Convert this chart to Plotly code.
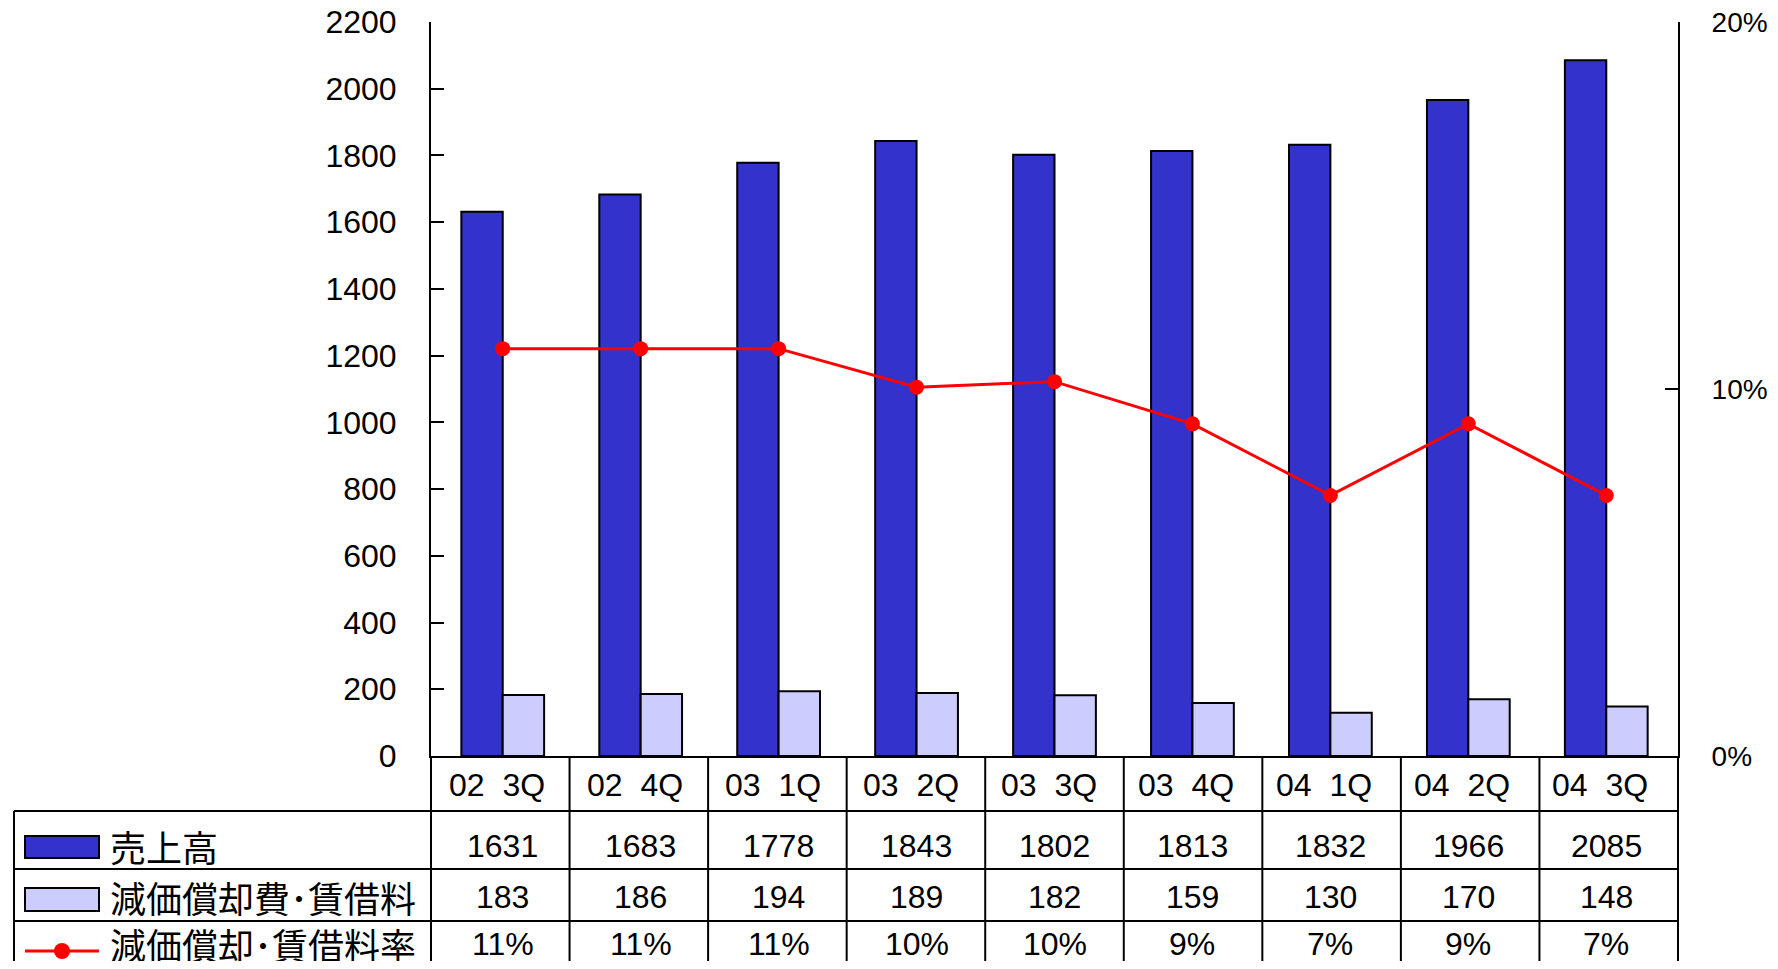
import plotly.graph_objects as go

quarters = ["02  3Q", "02  4Q", "03  1Q", "03  2Q", "03  3Q", "03  4Q", "04  1Q", "04  2Q", "04  3Q"]
sales = [1631, 1683, 1778, 1843, 1802, 1813, 1832, 1966, 2085]
depr = [183, 186, 194, 189, 182, 159, 130, 170, 148]
rate = [11.1, 11.1, 11.1, 10.05, 10.2, 9.05, 7.1, 9.05, 7.1]
rate_labels = ["11%", "11%", "11%", "10%", "10%", "9%", "7%", "9%", "7%"]
rate_ticks = [0, 10, 20]
rate_ticktext = ["0%", "10%", "20%"]
series_names = ["売上高", "減価償却費･賃借料", "減価償却･賃借料率"]

BLUE = "#3333CC"
LIGHT = "#CCCCFF"
RED = "#FF0000"
NUM_FONT = "Liberation Sans, Arial, sans-serif"
JP_FONT = "Noto Sans CJK JP, sans-serif"

# the page body has an 8px margin, so the figure is a bit smaller than the window
OFF = 8
W, H = 1778 - 2 * OFF, 969 - 2 * OFF
# plot area in screen pixels
L, R, T, B = 431, 1678, 22, 756

def px(x):
    return (x - L) / (R - L)

def py(y):
    return (B - y) / (B - T)

fig = go.Figure()
fig.add_trace(go.Bar(x=quarters, y=sales, name=series_names[0], marker=dict(color=BLUE, line=dict(color="black", width=2))))
fig.add_trace(go.Bar(x=quarters, y=depr, name=series_names[1], marker=dict(color=LIGHT, line=dict(color="black", width=2))))
fig.add_trace(go.Scatter(x=quarters, y=rate, name=series_names[2], yaxis="y2", mode="lines+markers",
                         line=dict(color=RED, width=3), marker=dict(color=RED, size=15)))

shapes = []
line_style = dict(color="black", width=2)
# horizontal table lines
for yy in [811, 869, 921]:
    shapes.append(dict(type="line", xref="paper", yref="paper", x0=px(14), x1=px(R), y0=py(yy), y1=py(yy), line=line_style))
# vertical table lines
for k in range(10):
    xx = L + k * (R - L) / 9
    shapes.append(dict(type="line", xref="paper", yref="paper", x0=px(xx), x1=px(xx), y0=py(756), y1=py(985), line=line_style))
shapes.append(dict(type="line", xref="paper", yref="paper", x0=px(14), x1=px(14), y0=py(811), y1=py(985), line=line_style))

# legend keys inside the table
shapes.append(dict(type="rect", xref="paper", yref="paper", x0=px(25), x1=px(99), y0=py(836), y1=py(858),
                   fillcolor=BLUE, line=line_style))
shapes.append(dict(type="rect", xref="paper", yref="paper", x0=px(25), x1=px(99), y0=py(888), y1=py(911),
                   fillcolor=LIGHT, line=line_style))
shapes.append(dict(type="line", xref="paper", yref="paper", x0=px(25), x1=px(99), y0=py(951), y1=py(951),
                   line=dict(color=RED, width=3)))
shapes.append(dict(type="circle", xref="paper", yref="paper", x0=px(54), x1=px(70), y0=py(943), y1=py(959),
                   fillcolor=RED, line=dict(color=RED, width=0)))

annotations = []
row_y = [785, 846, 897, 944]
rows = [quarters, [str(v) for v in sales], [str(v) for v in depr], rate_labels]
for r, vals in enumerate(rows):
    for q, v in zip(quarters, vals):
        annotations.append(dict(x=q, xref="x", y=py(row_y[r]), yref="paper", text=v.replace(" ", "\u00a0"),
                                xanchor="center", yanchor="middle", xshift=-6 if r == 0 else 0, showarrow=False,
                                font=dict(family=NUM_FONT, size=32, color="black")))
for i, name in enumerate(series_names):
    annotations.append(dict(x=px(108), xref="paper", y=py(row_y[i + 1]), yref="paper", text=name,
                            xanchor="left", yanchor="middle", showarrow=False,
                            font=dict(family=JP_FONT, size=36, color="black")))

fig.update_layout(
    width=W, height=H, autosize=False,
    margin=dict(l=L - OFF, r=W - (R - OFF), t=T - OFF, b=H - (B - OFF), autoexpand=False),
    paper_bgcolor="white", plot_bgcolor="white",
    barmode="group", bargap=0.4, bargroupgap=0,
    showlegend=False,
    xaxis=dict(showticklabels=False, ticks="", showgrid=False, showline=True, linecolor="black", linewidth=2),
    yaxis=dict(range=[0, 2200], dtick=200, showgrid=False, zeroline=False, showline=True, linecolor="black", linewidth=2,
               ticks="inside", ticklen=13, tickwidth=2, tickcolor="black", ticklabelstandoff=26,
               ticklabeloverflow="allow", tickfont=dict(family=NUM_FONT, size=32, color="black")),
    yaxis2=dict(range=[0, 20], tickmode="array", tickvals=rate_ticks, ticktext=rate_ticktext, overlaying="y",
                side="right", showgrid=False, zeroline=False, showline=True, linecolor="black", linewidth=2,
                ticks="inside", ticklen=13, tickwidth=2, tickcolor="black", ticklabelstandoff=26,
                ticklabeloverflow="allow", tickfont=dict(family=NUM_FONT, size=28, color="black")),
    shapes=shapes,
    annotations=annotations,
)

fig.write_html("out.html")
